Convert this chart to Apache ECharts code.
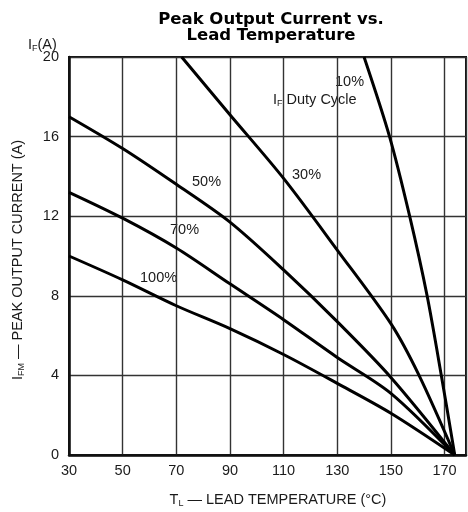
<!DOCTYPE html>
<html><head><meta charset="utf-8">
<script src="https://cdn.jsdelivr.net/npm/echarts@6/dist/echarts.min.js"></script>
<style>html,body{margin:0;padding:0;background:#fff}#c{width:468px;height:512px}</style>
</head><body><div id="c"></div>
<script>
const xTicks = [30, 50, 70, 90, 110, 130, 150, 170];
const yTicks = [0, 4, 8, 12, 16, 20];
const duty10 = [[140,20],[149.5,16],[157,12],[163.5,8],[168.8,4],[173.8,0]];
const duty30 = [[72,20],[90,17.1],[110,13.9],[130,10.3],[150,6.6],[160.5,4],[173.8,0]];
const duty50 = [[30,17],[50,15.4],[70,13.6],[90,11.7],[110,9.3],[130,6.7],[150,3.9],[173.8,0]];
const duty70 = [[30,13.2],[50,11.9],[70,10.4],[90,8.6],[110,6.8],[130,4.9],[150,3.1],[173.8,0]];
const duty100 = [[30,10],[50,8.8],[70,7.5],[90,6.35],[110,5.05],[130,3.6],[150,2.1],[173.8,0]];
const seriesNames = ['10%','30%','50%','70%','100%'];
const seriesData = [duty10, duty30, duty50, duty70, duty100];

const chart = echarts.init(document.getElementById('c'), null, {renderer:'canvas'});
const F = '"Liberation Sans", Arial, sans-serif';
const TF = '"DejaVu Sans", sans-serif';
const txt = '#1a1a1a';
const FS = 14.5;
const rich = {a: {fontFamily: F, fontSize: FS, fill: txt, color: txt}, s: {fontFamily: F, fontSize: 9, fill: txt, color: txt, padding: [7,0,0,0]}};
chart.setOption({
  animation: false,
  backgroundColor: '#fff',
  grid: {left: 69, top: 57, right: 2, bottom: 57, show: true, borderColor: '#111', borderWidth: 2},
  xAxis: {
    type: 'value', min: 30, max: 178, interval: 20,
    axisLine: {show: true, lineStyle: {color: '#111', width: 2.5}},
    axisTick: {show: false},
    splitLine: {show: true, lineStyle: {color: '#333', width: 1.4}},
    axisLabel: {color: txt, fontFamily: F, fontSize: FS, margin: 8, showMaxLabel: false,
      formatter: v => xTicks.includes(v) ? String(v) : ''}
  },
  yAxis: {
    type: 'value', min: 0, max: 20, interval: 4,
    axisLine: {show: true, lineStyle: {color: '#111', width: 2.5}},
    axisTick: {show: false},
    splitLine: {show: true, lineStyle: {color: '#333', width: 1.4}},
    axisLabel: {color: txt, fontFamily: F, fontSize: FS, margin: 10,
      formatter: v => yTicks.includes(v) ? String(v) : ''}
  },
  series: seriesData.map((d, i) => ({
    name: seriesNames[i], type: 'line', data: d, showSymbol: false,
    smooth: 0.3,
    lineStyle: {color: '#000', width: 3}, silent: true, clip: true
  })),
  graphic: [
    {type: 'text', x: 271, y: 11, style: {text: 'Peak Output Current vs.', fontFamily: TF, fontWeight: 'bold', fontSize: 16.5, fill: '#000', align: 'center'}},
    {type: 'text', x: 271, y: 27, style: {text: 'Lead Temperature', fontFamily: TF, fontWeight: 'bold', fontSize: 16.5, fill: '#000', align: 'center'}},
    {type: 'text', x: 278, y: 492, style: {text: '{a|T}{s|L}{a| — LEAD TEMPERATURE (°C)}', align: 'center', rich: rich}},
    {type: 'text', x: 10, y: 260, rotation: Math.PI / 2, style: {text: '{a|I}{s|FM}{a| — PEAK OUTPUT CURRENT (A)}', align: 'center', rich: rich}},
    {type: 'text', x: 28, y: 37, style: {text: '{a|I}{s|F}{a|(A)}', rich: rich}},
    {type: 'text', x: 335, y: 74, style: {text: '10%', fontFamily: F, fontSize: FS, fill: txt}},
    {type: 'text', x: 273, y: 92, style: {text: '{a|I}{s|F}{a| Duty Cycle}', rich: rich}},
    {type: 'text', x: 292, y: 167, style: {text: '30%', fontFamily: F, fontSize: FS, fill: txt}},
    {type: 'text', x: 192, y: 174, style: {text: '50%', fontFamily: F, fontSize: FS, fill: txt}},
    {type: 'text', x: 170, y: 222, style: {text: '70%', fontFamily: F, fontSize: FS, fill: txt}},
    {type: 'text', x: 140, y: 270, style: {text: '100%', fontFamily: F, fontSize: FS, fill: txt}}
  ]
});
</script></body></html>
